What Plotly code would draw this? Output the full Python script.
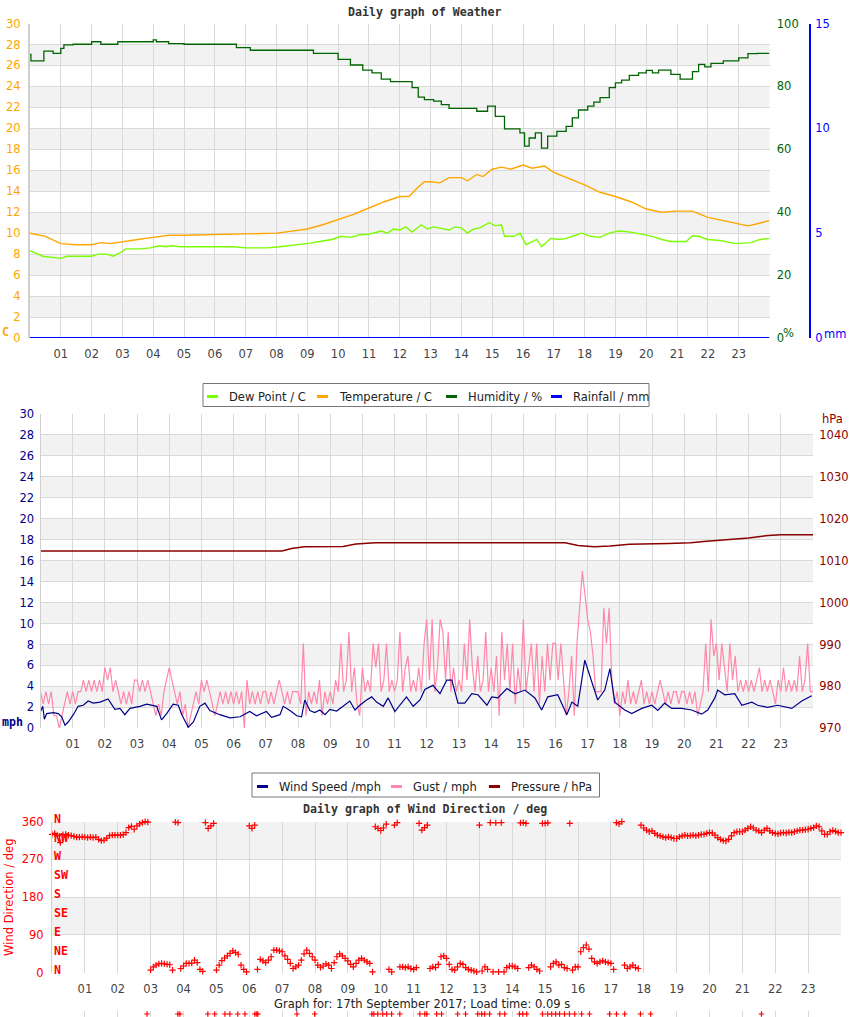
import plotly.graph_objects as go

W, H = 850, 1017
def fx(px): return px / W
def fy(py): return 1 - py / H

hour_labels = ['01','02','03','04','05','06','07','08','09','10','11','12',
               '13','14','15','16','17','18','19','20','21','22','23']
hour_vals = list(range(25))
hour_text = [''] + hour_labels + ['']

# ---------------- Panel 1: weather ----------------
temp_h = [0.0,0.5,1.0,1.5,2.0,2.3,2.6,3.0,3.5,4.0,4.5,5.0,6.0,7.0,8.0,8.5,9.0,9.5,10.0,10.5,
          11.0,11.5,12.0,12.3,12.6,12.8,13.0,13.3,13.6,14.0,14.2,14.5,14.7,15.0,15.3,15.6,16.0,
          16.3,16.7,17.0,17.5,18.0,18.5,19.0,19.5,20.0,20.5,21.0,21.5,22.0,22.5,23.0,23.3,23.6,24.0]
temp_c = [10.0,9.7,9.0,8.9,8.9,9.1,9.0,9.2,9.4,9.6,9.8,9.8,9.85,9.9,10.0,10.2,10.4,10.8,11.3,11.8,
          12.4,13.0,13.5,13.5,14.4,14.9,14.9,14.8,15.3,15.3,15.0,15.6,15.4,16.1,16.3,16.1,16.5,
          16.2,16.4,15.8,15.2,14.6,13.9,13.5,13.0,12.3,12.0,12.1,12.1,11.5,11.2,10.9,10.7,10.9,11.2]

dew_h = [0.0,0.2,0.4,0.75,1.0,1.2,1.7,2.0,2.2,2.5,2.7,3.0,3.1,3.6,3.9,4.2,4.4,4.6,4.9,5.5,6.6,7.0,
         7.7,8.1,8.8,9.1,9.4,9.8,10.1,10.4,10.7,11.0,11.4,11.6,11.8,12.0,12.2,12.4,12.7,12.9,13.1,
         13.3,13.6,13.8,14.0,14.2,14.4,14.6,14.9,15.1,15.3,15.4,15.7,15.9,16.1,16.3,16.45,16.6,16.9,
         17.2,17.4,17.7,17.9,18.2,18.5,18.8,19.1,19.5,19.9,20.2,20.5,20.8,21.3,21.5,21.7,22.0,22.4,
         22.9,23.4,23.7,24.0]
dew_c = [8.3,8.1,7.8,7.7,7.6,7.8,7.8,7.8,8.0,8.0,7.8,8.25,8.5,8.5,8.6,8.8,8.7,8.8,8.7,8.7,8.7,8.6,
         8.6,8.7,8.9,9.05,9.2,9.4,9.7,9.6,9.85,9.9,10.2,10.0,10.4,10.3,10.6,10.1,10.8,10.4,10.6,
         10.5,10.3,10.6,10.5,10.0,10.4,10.5,11.0,10.7,10.8,9.7,9.7,10.0,8.9,9.2,9.4,8.7,9.5,
         9.4,9.5,9.8,10.0,9.7,9.6,10.0,10.2,10.1,9.85,9.7,9.4,9.2,9.2,9.75,9.7,9.4,9.3,
         9.0,9.1,9.4,9.5]

hum_h = [0.0,0.03,0.45,0.75,1.0,1.1,1.4,2.0,2.3,2.85,3.5,4.0,4.1,4.5,5.0,6.7,7.15,9.2,10.0,10.4,
         10.8,11.1,11.4,11.7,12.4,12.6,12.8,13.1,13.35,13.6,14.3,14.5,14.85,15.1,15.4,15.9,16.05,
         16.2,16.4,16.6,16.8,17.1,17.4,17.6,17.8,18.1,18.3,18.5,18.8,19.0,19.2,19.45,19.75,20.0,
         20.2,20.4,20.8,21.1,21.5,21.7,21.9,22.1,22.5,23.0,23.3,23.6,24.0]
hum_pct = [90.2,88.1,91.2,90.5,92.1,93.2,93.4,94.2,93.4,94.2,94.2,94.8,94.2,93.6,93.4,92.3,91.5,
           90.5,88.6,86.8,85.2,84.3,82.3,81.5,79.6,76.6,75.8,75.3,74.2,73.0,73.0,72.1,73.7,70.5,
           66.5,65.2,61.0,63.6,65.2,60.4,64.2,65.7,67.3,70.0,72.5,73.7,75.0,76.4,79.6,81.1,82.0,
           83.5,84.3,85.1,84.3,85.2,83.8,82.3,84.7,87.0,86.2,87.3,88.1,89.1,90.4,90.5,90.5]

rain_h = [0, 6, 12, 18, 24]
rain_mm = [0, 0, 0, 0, 0]

# ---------------- Panel 2: wind / pressure ----------------
wind_h = [0.0,0.07,0.12,0.19,0.4,0.55,0.66,0.76,0.86,1.02,1.17,1.33,1.48,1.64,1.85,2.1,2.31,2.47,
          2.62,2.78,3.09,3.3,3.61,3.76,3.92,4.12,4.28,4.39,4.59,4.75,4.95,5.11,5.26,5.57,5.89,6.2,
          6.5,6.71,7.02,7.18,7.44,7.54,7.75,7.96,8.11,8.21,8.37,8.52,8.68,8.84,8.99,9.2,9.4,9.61,
          9.77,9.92,10.13,10.29,10.44,10.65,10.8,11.01,11.16,11.37,11.58,11.79,11.94,12.19,12.41,
          12.62,12.78,12.97,13.18,13.4,13.59,13.87,14.02,14.21,14.49,14.74,15.05,15.36,15.57,15.76,
          16.07,16.35,16.51,16.69,16.91,17.12,17.31,17.53,17.69,17.84,18.15,18.37,18.68,18.99,19.18,
          19.39,19.61,19.92,20.23,20.54,20.73,20.95,21.04,21.26,21.57,21.79,22.1,22.28,22.59,22.9,
          23.34,23.65,23.84,23.96]
wind_mph = [1.6,2.1,0.86,1.4,1.5,1.4,1.1,0.3,0.6,1.3,2.1,2.2,2.6,2.4,2.5,2.8,1.8,1.9,
            1.3,1.9,2.1,2.3,2.1,0.8,1.4,2.3,2.2,1.3,0.1,0.6,2.1,2.4,1.7,1.3,1.0,1.1,
            1.6,1.2,1.6,1.05,1.3,2.1,1.7,1.2,1.1,2.7,1.7,1.5,1.75,1.3,1.8,1.65,2.1,2.6,
            1.75,2.2,2.7,3.0,2.5,2.1,2.9,1.6,2.2,3.0,2.1,2.7,3.7,4.1,3.3,
            4.6,4.6,2.4,2.4,3.3,3.2,2.2,3.0,2.9,3.8,3.3,3.65,2.9,1.75,3.0,
            3.2,1.3,2.5,2.1,6.5,4.6,2.7,3.65,5.7,2.5,1.75,1.4,1.9,2.2,1.7,
            2.4,1.9,1.9,1.75,1.35,1.75,2.9,3.65,3.2,3.3,2.2,2.5,2.2,2.0,2.2,
            1.9,2.6,2.9,3.1]

# 5-minute gust readings, one row per hour
gust_h = [i / 12 for i in range(289)]
gust_mph = [
    3.5, 2.3, 3.5, 2.3, 3.5, 1.2, 1.2, 0.0, 1.2, 2.3, 3.5, 2.3,
    3.5, 2.3, 3.5, 3.5, 4.6, 3.5, 4.6, 3.5, 4.6, 3.5, 4.6, 3.5,
    5.8, 4.6, 5.8, 3.5, 4.6, 3.5, 2.3, 3.5, 2.3, 3.5, 2.3, 4.6,
    4.6, 3.5, 4.6, 3.5, 4.6, 3.5, 2.3, 1.2, 2.3, 1.2, 3.5, 4.6,
    5.8, 4.6, 3.5, 2.3, 3.5, 1.2, 2.3, 0.0, 1.2, 2.3, 3.5, 2.3,
    4.6, 3.5, 4.6, 3.5, 2.3, 1.2, 2.3, 3.5, 2.3, 3.5, 2.3, 3.5,
    2.3, 3.5, 2.3, 3.5, 0.0, 4.6, 2.3, 3.5, 2.3, 3.5, 2.3, 3.5,
    3.5, 2.3, 3.5, 2.3, 3.5, 4.6, 3.5, 2.3, 3.5, 2.3, 3.5, 3.5,
    3.5, 2.3, 8.1, 1.2, 3.5, 2.3, 3.5, 2.3, 4.6, 1.2, 3.5, 2.3,
    3.5, 2.3, 4.6, 3.5, 8.1, 3.5, 4.6, 9.2, 3.5, 5.8, 2.3, 1.2,
    5.8, 3.5, 4.6, 3.5, 8.1, 5.8, 8.1, 3.5, 4.6, 8.1, 3.5, 4.6,
    3.5, 4.6, 9.2, 3.5, 5.8, 6.9, 3.5, 4.6, 3.5, 5.8, 3.5, 8.1,
    10.4, 4.6, 10.4, 3.5, 5.8, 10.4, 9.2, 4.6, 9.2, 3.5, 5.8, 3.5,
    4.6, 3.5, 8.1, 4.6, 10.4, 5.8, 3.5, 6.9, 3.5, 4.6, 9.2, 3.5,
    5.8, 3.5, 6.9, 1.2, 9.2, 4.6, 8.1, 3.5, 8.1, 2.3, 5.8, 3.5,
    10.4, 3.5, 5.8, 8.1, 3.5, 8.1, 2.3, 6.9, 3.5, 8.1, 4.6, 8.1,
    8.1, 4.6, 8.1, 4.6, 1.2, 3.5, 6.9, 1.2, 8.1, 11.5, 15.0, 12.7,
    10.4, 9.2, 6.9, 3.5, 3.5, 3.5, 11.5, 8.1, 11.5, 4.6, 2.3, 3.5,
    1.2, 3.5, 2.3, 4.6, 2.3, 3.5, 2.3, 3.5, 4.6, 2.3, 3.5, 2.3,
    3.5, 2.3, 3.5, 4.6, 3.5, 2.3, 3.5, 2.3, 3.5, 3.5, 2.3, 3.5,
    3.5, 2.3, 3.5, 2.3, 3.5, 1.2, 2.3, 3.5, 8.1, 3.5, 10.4, 6.9,
    8.1, 4.6, 8.1, 5.8, 3.5, 8.1, 4.6, 6.9, 3.5, 4.6, 3.5, 4.6,
    3.5, 4.6, 3.5, 4.6, 5.8, 3.5, 4.6, 3.5, 4.6, 3.5, 2.3, 4.6,
    3.5, 5.8, 3.5, 4.6, 3.5, 4.6, 3.5, 6.9, 3.5, 4.6, 8.1, 3.5,
    3.5]

press_h = [0, 7.5, 7.8, 8.2, 9.4, 9.8, 10.4, 16.3, 16.7, 17.2, 17.7, 18.3, 19.5, 20.2, 20.6,
           21.3, 22.0, 22.6, 23.0, 24]
press_hpa = [1012.3, 1012.3, 1012.9, 1013.3, 1013.4, 1014.0, 1014.3, 1014.3, 1013.6, 1013.3,
             1013.5, 1013.9, 1014.1, 1014.3, 1014.6, 1015.0, 1015.4, 1016.0, 1016.2, 1016.2]

# ---------------- Panel 3: wind direction (5-minute readings) ----------------
dir_h = [i / 12 for i in range(289)]
dir_deg = [
    330, 332, 327, 310, 329, 330, 328, 327, 325, 323, 323, 324,
    323, 322, 323, 322, 323, 318, 315, 316, 321, 327, 328, 328,
    328, 328, 329, 334, 346, 349, 342, 350, 355, 358, 360, 359,
    6, 14, 18, 21, 22, 21, 20, 19, 6, 359, 358, 10,
    16, 22, 22, 23, 30, 24, 8, 3, 358, 344, 350, 356,
    6, 18, 29, 35, 40, 46, 52, 48, 44, 18, 8, 2,
    350, 344, 352, 8, 32, 28, 24, 30, 38, 54, 54, 52,
    50, 40, 32, 22, 10, 14, 18, 30, 45, 54, 46, 38,
    30, 18, 13, 16, 21, 18, 10, 24, 38, 45, 40, 34,
    28, 20, 14, 22, 30, 34, 30, 26, 22, 2, 348, 344,
    339, 345, 354, 8, 2, 352, 358, 14, 14, 12, 14, 10,
    8, 12, 356, 340, 346, 352, 10, 14, 12, 20, 38, 40,
    34, 20, 8, 6, 14, 22, 20, 12, 8, 6, 4, 2,
    352, 4, 14, 8, 358, 2, 357, 2, 358, 2, 12, 16,
    16, 14, 10, 357, 358, 356, 12, 18, 14, 8, 4, 356,
    356, 357, 14, 22, 26, 18, 20, 12, 10, 356, 6, 14,
    14, 50, 60, 66, 56, 34, 26, 22, 26, 28, 26, 24,
    22, 8, 358, 355, 360, 18, 10, 14, 18, 12, 10, 352,
    345, 340, 336, 338, 332, 328, 326, 324, 322, 324, 322, 320,
    320, 324, 326, 328, 326, 327, 328, 326, 328, 330, 330, 332,
    334, 333, 328, 322, 318, 315, 314, 318, 326, 334, 336, 336,
    336, 340, 344, 348, 345, 340, 338, 334, 340, 344, 338, 334,
    332, 331, 333, 334, 333, 335, 334, 336, 338, 340, 340, 341,
    342, 344, 346, 350, 348, 338, 330, 330, 336, 339, 337, 334,
    334]

# stray points drawn in the strip below the footer
stray_h = [2.89, 3.83, 3.89, 4.74, 4.95, 5.26, 5.41, 5.65, 5.87, 6.17, 6.23, 6.26, 7.45, 7.99,
           9.73, 9.79, 9.91, 10.06, 10.18, 10.33, 10.58, 11.19, 11.34, 11.4, 11.7, 11.85, 12.34,
           12.58, 12.95, 13.07, 13.16, 13.31, 13.62, 13.77, 14.22, 14.32, 14.44, 14.92, 15.08,
           15.2, 15.32, 15.44, 15.59, 15.74, 15.9, 16.11, 16.35, 16.96, 17.17, 17.42, 17.9,
           18.21, 21.58]
stray_val = [0] * len(stray_h)

compass = ['N', 'NE', 'E', 'SE', 'S', 'SW', 'W', 'NW', 'N']
compass_deg = [0, 45, 90, 135, 180, 225, 270, 315, 360]

legend1_names = ['Dew Point / C', 'Temperature / C', 'Humidity / %', 'Rainfall / mm']
legend2_names = ['Wind Speed /mph', 'Gust / mph', 'Pressure / hPa']

# ---------------- colours ----------------
C_DEW = '#7CFC00'
C_TEMP = '#FFA500'
C_HUM = '#006400'
C_RAIN = '#0000FF'
C_WIND = '#00008B'
C_GUST = '#FF88AA'
C_PRESS = '#8B0000'
C_DIR = '#FF0000'
GRID = '#d9d9d9'
BAND = '#f2f2f2'
FONT = 'DejaVu Sans'
MONO = 'DejaVu Sans Mono'
FS = 11.5

fig = go.Figure()

# panel 1 traces
fig.add_trace(go.Scatter(x=hum_h, y=hum_pct, mode='lines', line=dict(color=C_HUM, width=1.3, shape='hv'),
                         xaxis='x', yaxis='y2', showlegend=False))
fig.add_trace(go.Scatter(x=temp_h, y=temp_c, mode='lines', line=dict(color=C_TEMP, width=1.4),
                         xaxis='x', yaxis='y', showlegend=False))
fig.add_trace(go.Scatter(x=dew_h, y=dew_c, mode='lines', line=dict(color=C_DEW, width=1.4),
                         xaxis='x', yaxis='y', showlegend=False))
fig.add_trace(go.Scatter(x=rain_h, y=rain_mm, mode='lines', line=dict(color=C_RAIN, width=2),
                         xaxis='x', yaxis='y3', showlegend=False, cliponaxis=False))

# panel 2 traces
fig.add_trace(go.Scatter(x=gust_h, y=gust_mph, mode='lines', line=dict(color=C_GUST, width=1.2),
                         xaxis='x2', yaxis='y4', showlegend=False))
fig.add_trace(go.Scatter(x=wind_h, y=wind_mph, mode='lines', line=dict(color=C_WIND, width=1.2),
                         xaxis='x2', yaxis='y4', showlegend=False))
fig.add_trace(go.Scatter(x=press_h, y=press_hpa, mode='lines', line=dict(color=C_PRESS, width=1.5),
                         xaxis='x2', yaxis='y5', showlegend=False))

# panel 3 traces
fig.add_trace(go.Scatter(x=dir_h, y=dir_deg, mode='markers',
                         marker=dict(symbol='cross-thin', size=4.5, color=C_DIR,
                                     line=dict(color=C_DIR, width=1.2)),
                         xaxis='x3', yaxis='y6', showlegend=False, cliponaxis=False))
fig.add_trace(go.Scatter(x=stray_h, y=stray_val, mode='markers',
                         marker=dict(symbol='cross-thin', size=4, color=C_DIR,
                                     line=dict(color=C_DIR, width=1.2)),
                         xaxis='x3', yaxis='y7', showlegend=False, cliponaxis=False))

tickfont = dict(family=FONT, size=FS, color='#444')
def xax(dom, anchor):
    return dict(domain=dom, anchor=anchor, range=[0, 24], tickvals=hour_vals, ticktext=hour_text,
                showgrid=True, gridcolor=GRID, gridwidth=1, zeroline=False, tickfont=tickfont,
                ticks='outside', ticklen=5, tickcolor='rgba(0,0,0,0)', fixedrange=True, showline=False)

def yfont(c):
    return dict(family=FONT, size=FS, color=c)

fig.update_layout(
    width=W, height=H, margin=dict(l=0, r=0, t=0, b=0, autoexpand=False),
    paper_bgcolor='white', plot_bgcolor='white', showlegend=False,
    xaxis=xax([fx(30), fx(769.5)], 'y'),
    yaxis=dict(domain=[fy(338), fy(23.5)], anchor='x', range=[0, 30], dtick=2, tick0=0,
               showgrid=True, gridcolor=GRID, zeroline=False, tickfont=yfont(C_TEMP),
               ticks='outside', ticklen=5, tickcolor='rgba(0,0,0,0)',
               showline=True, linecolor='#cfcfcf', linewidth=2),
    yaxis2=dict(overlaying='y', side='right', anchor='x', range=[0, 100],
                tickvals=[0, 20, 40, 60, 80, 100], showgrid=False, zeroline=False,
                tickfont=yfont(C_HUM), ticks='outside', ticklen=4, tickcolor='rgba(0,0,0,0)'),
    yaxis3=dict(overlaying='y', side='right', anchor='free', position=fx(810), range=[0, 15],
                tickvals=[0, 5, 10, 15], showgrid=False, zeroline=False, tickfont=yfont(C_RAIN),
                showline=True, linecolor=C_RAIN, linewidth=2,
                ticks='outside', ticklen=2, tickcolor='rgba(0,0,0,0)'),
    xaxis2=xax([fx(40.5), fx(813)], 'y4'),
    yaxis4=dict(domain=[fy(728.3), fy(414)], anchor='x2', range=[0, 30], dtick=2, tick0=0,
                showgrid=True, gridcolor=GRID, zeroline=False, tickfont=yfont(C_WIND),
                ticks='outside', ticklen=3, tickcolor='rgba(0,0,0,0)',
                showline=True, linecolor='#cfcfcf', linewidth=1),
    yaxis5=dict(overlaying='y4', side='right', anchor='x2', range=[970, 1045],
                tickvals=[970, 980, 990, 1000, 1010, 1020, 1030, 1040], showgrid=False,
                zeroline=False, tickfont=yfont(C_PRESS),
                ticks='outside', ticklen=3, tickcolor='rgba(0,0,0,0)'),
    xaxis3=xax([fx(52), fx(841)], 'y6'),
    yaxis6=dict(domain=[fy(972.7), fy(821.7)], anchor='x3', range=[0, 360],
                tickvals=[0, 90, 180, 270, 360], showgrid=True, gridcolor=GRID, zeroline=False,
                tickfont=yfont(C_DIR), ticks='outside', ticklen=5, tickcolor='rgba(0,0,0,0)',
                showline=True, linecolor='#cfcfcf', linewidth=1,
                title=dict(text='Wind Direction / deg', font=yfont(C_DIR), standoff=5)),
    yaxis7=dict(domain=[fy(1017), fy(1011)], anchor='free', position=0, range=[-1, 1],
                visible=False, fixedrange=True),
)

# alternating bands + custom legend boxes
shapes = []
for k in [2, 6, 10, 14, 18, 22, 26]:
    shapes.append(dict(type='rect', xref='x domain', yref='y', x0=0, x1=1, y0=k, y1=k + 2,
                       fillcolor=BAND, line=dict(width=0), layer='below'))
    shapes.append(dict(type='rect', xref='x2 domain', yref='y4', x0=0, x1=1, y0=k, y1=k + 2,
                       fillcolor=BAND, line=dict(width=0), layer='below'))
for lo in [90, 270]:
    shapes.append(dict(type='rect', xref='x3 domain', yref='y6', x0=0, x1=1, y0=lo, y1=lo + 90,
                       fillcolor=BAND, line=dict(width=0), layer='below'))

ann = []
def text(x, y, s, font, xanchor='center', yanchor='middle'):
    ann.append(dict(x=fx(x), y=fy(y), xref='paper', yref='paper', text=s, showarrow=False,
                    xanchor=xanchor, yanchor=yanchor, font=font))

legfont = dict(family=FONT, size=FS, color='#222')
def legend_box(x0, x1, y0, y1, entries):
    shapes.append(dict(type='rect', xref='paper', yref='paper', x0=fx(x0), x1=fx(x1),
                       y0=fy(y1), y1=fy(y0), fillcolor='white', line=dict(color='#777', width=1),
                       layer='above'))
    ymid = (y0 + y1) / 2 + 1.5
    for name, col, dx in entries:
        shapes.append(dict(type='line', xref='paper', yref='paper', x0=fx(dx), x1=fx(dx + 11),
                           y0=fy(ymid), y1=fy(ymid), line=dict(color=col, width=3), layer='above'))
        text(dx + 20, ymid + 0.5, name, legfont, xanchor='left')

legend_box(203, 649, 383.5, 406.5, list(zip(legend1_names, [C_DEW, C_TEMP, C_HUM, C_RAIN],
                                            [207, 317, 446, 551])))
legend_box(252, 599.5, 773, 797, list(zip(legend2_names, [C_WIND, C_GUST, C_PRESS],
                                          [257, 391, 489])))
fig.update_layout(shapes=shapes)

bold_mono = lambda c: dict(family=MONO, size=11.6, color=c)
text(425, 12, '<b>Daily graph of Weather</b>', bold_mono('#333'))
text(425, 809, '<b>Daily graph of Wind Direction / deg</b>', bold_mono('#333'))
text(422, 1004, 'Graph for: 17th September 2017; Load time: 0.09 s', dict(family=FONT, size=FS, color='#222'))
text(5, 332, '<b>C</b>', bold_mono(C_TEMP), xanchor='center')
text(788, 333, '%', dict(family=FONT, size=FS, color=C_HUM), xanchor='center')
text(835, 334, 'mm', dict(family=FONT, size=FS, color=C_RAIN), xanchor='center')
text(12, 722, '<b>mph</b>', bold_mono(C_WIND), xanchor='center')
text(832, 419, 'hPa', dict(family=FONT, size=FS, color=C_PRESS), xanchor='center')
for lab, d in zip(compass, compass_deg):
    ann.append(dict(x=fx(52), xref='paper', y=d, yref='y6', text='<b>' + lab + '</b>', showarrow=False,
                    xanchor='left', yanchor='middle', yshift=3, font=bold_mono(C_DIR)))
fig.update_layout(annotations=ann)

fig.write_html('out.html')
